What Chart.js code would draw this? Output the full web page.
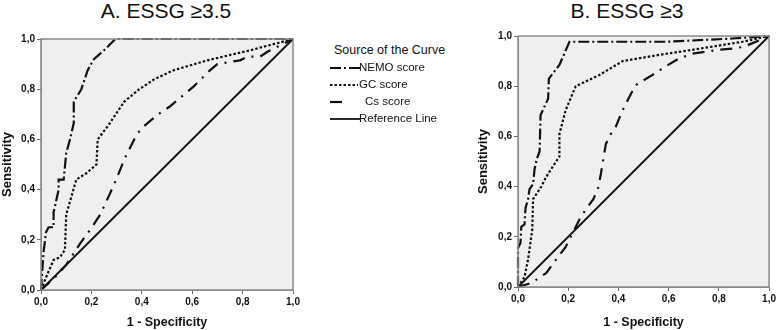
<!DOCTYPE html>
<html>
<head>
<meta charset="utf-8">
<script src="https://cdn.jsdelivr.net/npm/chart.js@4.4.1/dist/chart.umd.min.js"></script>
<style>
  body { margin: 0; background: #fff; width: 778px; height: 330px; position: relative; overflow: hidden; font-family: "Liberation Sans", Arial, sans-serif; }
  .title { position: absolute; top: -1px; font-size: 21px; color: #111; white-space: nowrap; transform: translateX(-50%); }
  #wrapA { position: absolute; left: 0; top: 0; width: 310px; height: 330px; }
  #wrapB { position: absolute; left: 476px; top: 0; width: 302px; height: 330px; }
  #legend { position: absolute; left: 329px; top: 43px; font-size: 11.5px; color: #111; }
  #legend .head { margin-left: 5px; margin-bottom: 3px; font-size: 12.5px; }
  #legend .row { height: 17px; position: relative; }
  #legend canvas { position: absolute; left: 0; top: 0; }
  #legend span { position: absolute; top: 1px; white-space: nowrap; }
</style>
</head>
<body>
<div class="title" style="left:166px">A. ESSG ≥3.5</div>
<div class="title" style="left:627px">B. ESSG ≥3</div>
<div id="wrapA"><canvas id="chart-a"></canvas></div>
<div id="wrapB"><canvas id="chart-b"></canvas></div>
<div id="legend">
  <div class="head">Source of the Curve</div>
  <div class="row"><canvas id="lg0" width="32" height="14"></canvas><span style="left:30px">NEMO score</span></div>
  <div class="row"><canvas id="lg1" width="32" height="14"></canvas><span style="left:30px">GC score</span></div>
  <div class="row"><canvas id="lg2" width="32" height="14"></canvas><span style="left:36px">Cs score</span></div>
  <div class="row"><canvas id="lg3" width="32" height="14"></canvas><span style="left:30px">Reference Line</span></div>
</div>
<script>
// ROC curves: [1 - specificity, sensitivity]
const nemoA = [[0,0],[0.01,0.15],[0.02,0.23],[0.03,0.25],[0.05,0.25],[0.05,0.31],[0.07,0.4],[0.07,0.44],[0.09,0.44],[0.1,0.545],[0.115,0.6],[0.13,0.665],[0.13,0.75],[0.16,0.8],[0.185,0.875],[0.21,0.92],[0.25,0.955],[0.295,1],[1,1]];
const gcA = [[0,0],[0.02,0.05],[0.05,0.12],[0.075,0.13],[0.095,0.16],[0.1,0.3],[0.14,0.44],[0.18,0.465],[0.22,0.5],[0.225,0.6],[0.27,0.66],[0.33,0.75],[0.39,0.8],[0.45,0.84],[0.525,0.875],[0.66,0.915],[0.83,0.955],[1,1]];
const csA = [[0,0],[0.055,0.05],[0.1,0.1],[0.155,0.185],[0.195,0.24],[0.235,0.3],[0.29,0.42],[0.335,0.53],[0.38,0.62],[0.405,0.65],[0.465,0.7],[0.51,0.73],[0.605,0.81],[0.67,0.875],[0.7,0.9],[0.79,0.915],[0.82,0.93],[0.87,0.93],[0.9,0.95],[1,1]];

const nemoB = [[0,0],[0,0.155],[0.01,0.175],[0.013,0.24],[0.026,0.25],[0.03,0.315],[0.04,0.35],[0.046,0.39],[0.06,0.41],[0.066,0.47],[0.075,0.51],[0.086,0.54],[0.09,0.685],[0.106,0.72],[0.12,0.75],[0.123,0.83],[0.146,0.86],[0.165,0.885],[0.205,0.977],[0.59,0.977],[0.855,0.99],[1,1]];
const gcB = [[0,0],[0.026,0.04],[0.04,0.11],[0.057,0.23],[0.06,0.35],[0.093,0.4],[0.113,0.44],[0.165,0.52],[0.165,0.61],[0.19,0.705],[0.23,0.8],[0.325,0.845],[0.417,0.9],[0.563,0.925],[0.695,0.945],[0.894,0.977],[1,1]];
const csB = [[0,0],[0.053,0.016],[0.113,0.056],[0.152,0.11],[0.19,0.16],[0.218,0.215],[0.25,0.28],[0.3,0.35],[0.318,0.39],[0.33,0.45],[0.35,0.57],[0.37,0.61],[0.39,0.64],[0.417,0.705],[0.45,0.77],[0.47,0.805],[0.536,0.845],[0.59,0.88],[0.64,0.91],[0.695,0.93],[0.8,0.945],[0.855,0.95],[0.9,0.957],[1,1]];

const refLine = [[0,0],[1,1]];
const seriesNames = ["NEMO score", "GC score", "Cs score", "Reference Line"];
const tickValues = [0, 0.2, 0.4, 0.6, 0.8, 1];

const dashes = [[11, 3, 2, 3], [2.5, 2], [12, 7, 2, 7], []];
const widths = [2.2, 2.2, 2.2, 1.8];

function toXY(arr) {
  return arr.map((p) => ({ x: p[0], y: p[1] }));
}

// gray plot background + frame
const plotBg = {
  id: "plotBg",
  beforeDraw(chart) {
    const { ctx, chartArea: a } = chart;
    ctx.save();
    ctx.fillStyle = "#efefef";
    ctx.fillRect(a.left, a.top, a.right - a.left, a.bottom - a.top);
    ctx.restore();
  },
  afterDraw(chart) {
    const { ctx, chartArea: a } = chart;
    ctx.save();
    ctx.strokeStyle = "#8a8a8a";
    ctx.lineWidth = 1.5;
    ctx.strokeRect(a.left, a.top, a.right - a.left, a.bottom - a.top);
    ctx.restore();
  },
};

function makeChart(id, curves, opts) {
  const datasets = curves.map((c, i) => ({
    label: seriesNames[i],
    data: toXY(c),
    showLine: true,
    pointRadius: 0,
    borderColor: "#111",
    borderWidth: widths[i],
    borderDash: dashes[i],
    tension: 0,
    clip: 2,
  }));
  const tickFont = { family: "Liberation Sans", size: 10, weight: "bold" };
  return new Chart(document.getElementById(id), {
    type: "scatter",
    data: { datasets: datasets },
    options: {
      responsive: true,
      maintainAspectRatio: false,
      animation: false,
      layout: { padding: { top: opts.top, right: opts.right, left: 0, bottom: 0 } },
      plugins: { legend: { display: false }, tooltip: { enabled: false } },
      scales: {
        x: {
          type: "linear",
          min: 0,
          max: 1,
          afterBuildTicks: (s) => { s.ticks = tickValues.map((v) => ({ value: v })); },
          afterFit: (s) => { s.height = opts.xh; },
          ticks: { color: "#111", font: tickFont, padding: 2, maxRotation: 0, callback: (v) => v.toFixed(1).replace(".", ",") },
          grid: { drawOnChartArea: false, drawTicks: true, tickLength: 4, color: "#666" },
          border: { color: "#8a8a8a" },
          title: { display: true, text: "1 - Specificity", color: "#111", font: { family: "Liberation Sans", size: 12.5, weight: "bold" }, padding: { top: 4, bottom: 0 } },
        },
        y: {
          type: "linear",
          min: 0,
          max: 1,
          afterBuildTicks: (s) => { s.ticks = tickValues.map((v) => ({ value: v })); },
          afterFit: (s) => { s.width = opts.yw; },
          ticks: { color: "#111", font: tickFont, padding: 2, callback: (v) => v.toFixed(1).replace(".", ",") },
          grid: { drawOnChartArea: false, drawTicks: true, tickLength: 4, color: "#666" },
          border: { color: "#8a8a8a" },
          title: { display: true, text: "Sensitivity", color: "#111", font: { family: "Liberation Sans", size: 13, weight: "bold" }, padding: { top: 0, bottom: 0 } },
        },
      },
    },
    plugins: [plotBg],
  });
}

makeChart("chart-a", [nemoA, gcA, csA, refLine], { top: 39, right: 17, xh: 40, yw: 41 });
makeChart("chart-b", [nemoB, gcB, csB, refLine], { top: 36, right: 8, xh: 43, yw: 42 });

// legend line samples
const sampleLen = [30, 28, 14, 30];
seriesNames.forEach((name, i) => {
  const ctx = document.getElementById("lg" + i).getContext("2d");
  ctx.strokeStyle = "#111";
  ctx.lineWidth = widths[i];
  ctx.setLineDash(dashes[i]);
  ctx.beginPath();
  ctx.moveTo(1, 8);
  ctx.lineTo(1 + sampleLen[i], 8);
  ctx.stroke();
});
</script>
</body>
</html>
